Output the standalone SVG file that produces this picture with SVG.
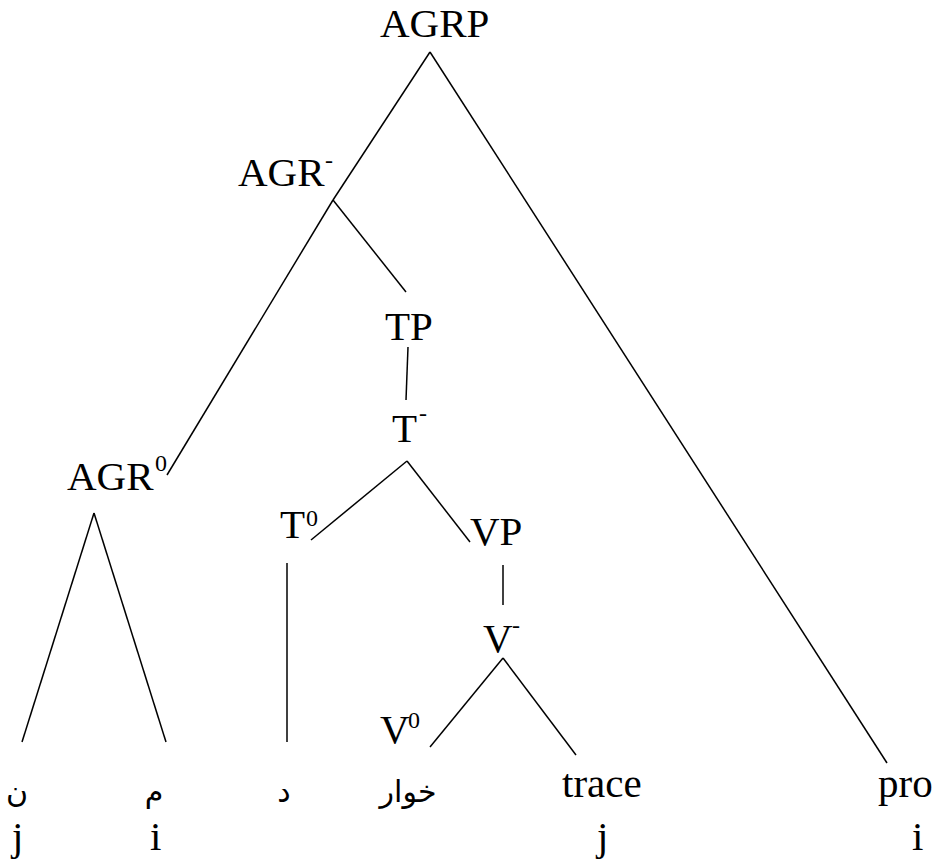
<svg xmlns="http://www.w3.org/2000/svg" width="936" height="863" viewBox="0 0 936 863">
<style>
.t{font-family:"Liberation Serif","Times New Roman",serif;font-size:41px;fill:#000}
.s{font-family:"Liberation Serif","Times New Roman",serif;font-size:24px;fill:#000}
.a{font-family:"DejaVu Sans","Noto Sans",sans-serif;font-size:30px;fill:#000}
.e line{stroke:#000;stroke-width:1.5;fill:none}
</style>
<rect width="936" height="863" fill="#fff"/>
<g class="e" id="connectors">
<line x1="430" y1="52" x2="887" y2="763"/>
<line x1="430" y1="52" x2="333" y2="200"/>
<line x1="333" y1="200" x2="167" y2="475"/>
<line x1="333" y1="200" x2="406" y2="292"/>
<line x1="408" y1="347" x2="406" y2="400"/>
<line x1="407" y1="461" x2="311" y2="540"/>
<line x1="407" y1="461" x2="470" y2="542"/>
<line x1="503" y1="565" x2="503" y2="605"/>
<line x1="503" y1="658" x2="430" y2="747"/>
<line x1="503" y1="658" x2="576" y2="755"/>
<line x1="94" y1="513" x2="22" y2="742"/>
<line x1="94" y1="513" x2="166" y2="742"/>
<line x1="287" y1="563" x2="287" y2="742"/>
</g>
<g id="agrp"><text class="t" x="380" y="37">AGRP</text></g>
<g id="agrbar"><text class="t" x="238" y="186">AGR</text><text class="s" x="325" y="168">-</text></g>
<g id="tp"><text class="t" x="385" y="340">TP</text></g>
<g id="tbar"><text class="t" x="392" y="442">T</text><text class="s" x="419" y="421">-</text></g>
<g id="agr0"><text class="t" x="67" y="490">AGR</text><text class="s" x="155" y="471">0</text></g>
<g id="t0"><text class="t" x="280" y="538">T</text><text class="s" x="306" y="526">0</text></g>
<g id="vp"><text class="t" x="470" y="545">VP</text></g>
<g id="vbar"><text class="t" x="483" y="652">V</text><text class="s" x="512" y="633">-</text></g>
<g id="v0"><text class="t" x="380" y="743">V</text><text class="s" x="408" y="728">0</text></g>
<g id="nun"><text class="a" x="17" y="802" text-anchor="middle">ن</text><text class="t" x="12" y="850">j</text></g>
<g id="mim"><text class="a" x="154" y="802" text-anchor="middle">م</text><text class="t" x="150" y="850">i</text></g>
<g id="dal"><text class="a" x="284" y="802" text-anchor="middle">د</text></g>
<g id="khwar"><text class="a" x="408" y="802" text-anchor="middle">خوار</text></g>
<g id="trace"><text class="t" x="562" y="797">trace</text><text class="t" x="597" y="850">j</text></g>
<g id="pro"><text class="t" x="878" y="797">pro</text><text class="t" x="912" y="850">i</text></g>
</svg>
